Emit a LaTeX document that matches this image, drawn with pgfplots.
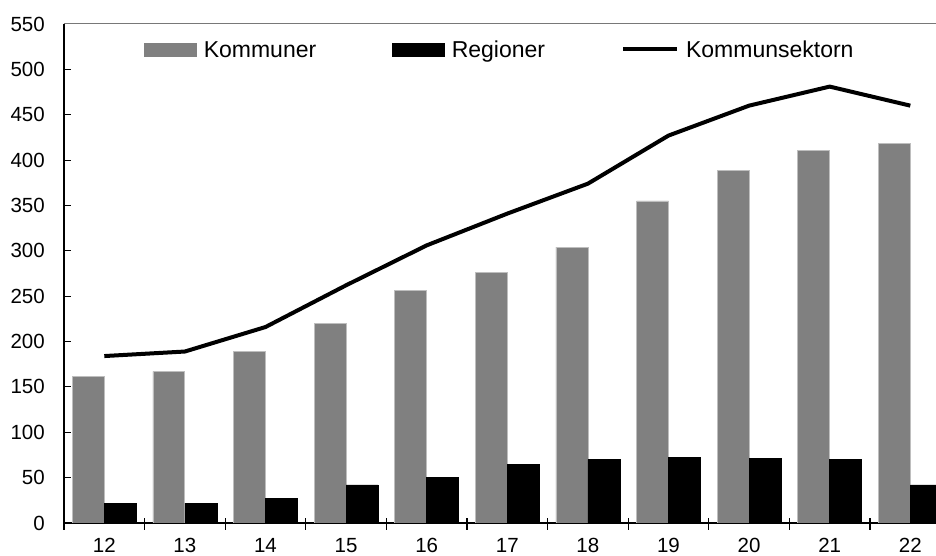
\documentclass[border=0pt]{standalone}
\usepackage{fontspec}
\setmainfont{Liberation Sans}
\usepackage{pgfplots}
\pgfplotsset{compat=1.18}
\definecolor{barGray}{RGB}{128,128,128}
\definecolor{edgeGray}{RGB}{190,190,190}
\definecolor{frameGray}{RGB}{120,120,120}

\begin{document}
\begin{tikzpicture}[x=1pt,y=1pt]
\path[use as bounding box] (-64,-33) rectangle (872,523);
\begin{axis}[
    at={(0,0)}, anchor=south west,
    scale only axis, width=872pt, height=499pt,
    xmin=-0.5, xmax=10.319, ymin=0, ymax=550,
    clip mode=individual,
    axis x line*=bottom, axis y line*=left,
    axis line style={line width=1.2pt, black},
    ytick={0,50,...,550},
    xtick={0,1,...,10},
    xticklabels={12,13,14,15,16,17,18,19,20,21,22},
    minor xtick={-0.5,0.5,...,9.5},
    major x tick style={draw=none},
    minor x tick style={yshift=-7pt, line width=1.2pt, black},
    minor tick length=12pt,
    major tick length=7pt,
    y tick style={line width=1pt, black},
    /pgf/number format/assume math mode=true,
    tick label style={font=\fontsize{20.5}{24}\selectfont},
    yticklabel style={anchor=east, inner sep=0pt, xshift=-19pt},
    xticklabel style={anchor=north, inner sep=0pt, yshift=-15pt},
    legend style={draw=none, fill=none, inner sep=0pt, outer sep=0pt,
        at={(0.0917,0.949)}, anchor=west,
        font=\fontsize{23}{27}\selectfont,
        nodes={inner sep=0pt, text height=16.5pt, text depth=0pt},
        /tikz/every odd column/.append style={column sep=7pt},
        /tikz/every even column/.append style={column sep=76pt},
        /tikz/column 5/.append style={column sep=5pt}},
    legend columns=-1,
]

% Kommuner
\addplot[ybar, bar width=0.397, bar shift=-0.1985, fill=barGray, draw=edgeGray, line width=0.8pt,
    legend image code/.code={\fill[barGray] (0pt,-6.5pt) rectangle (52pt,6.5pt);}]
    coordinates {(0,162) (1,167) (2,189) (3,220) (4,256) (5,276) (6,304) (7,355) (8,389) (9,411) (10,418)};
\addlegendentry{Kommuner}

% Regioner
\addplot[ybar, bar width=0.397, bar shift=0.1985, fill=black, draw=black, line width=0.5pt,
    legend image code/.code={\fill[black] (0pt,-6.5pt) rectangle (52pt,6.5pt);}]
    coordinates {(0,22) (1,22) (2,27) (3,42) (4,50) (5,65) (6,70) (7,72) (8,71) (9,70) (10,42)};
\addlegendentry{Regioner}

% Kommunsektorn
\addplot[black, line width=4pt, mark=none, line join=round,
    legend image code/.code={\draw[black, line width=4pt] (0pt,0pt) -- (54pt,0pt);}]
    coordinates {(0,184) (1,189) (2,216) (3,262) (4,306) (5,341) (6,374) (7,427) (8,460) (9,481) (10,460)};
\addlegendentry{Kommunsektorn}

\draw[frameGray, line width=1pt] (rel axis cs:0,1) -- (rel axis cs:1,1);
\end{axis}
\end{tikzpicture}
\end{document}
